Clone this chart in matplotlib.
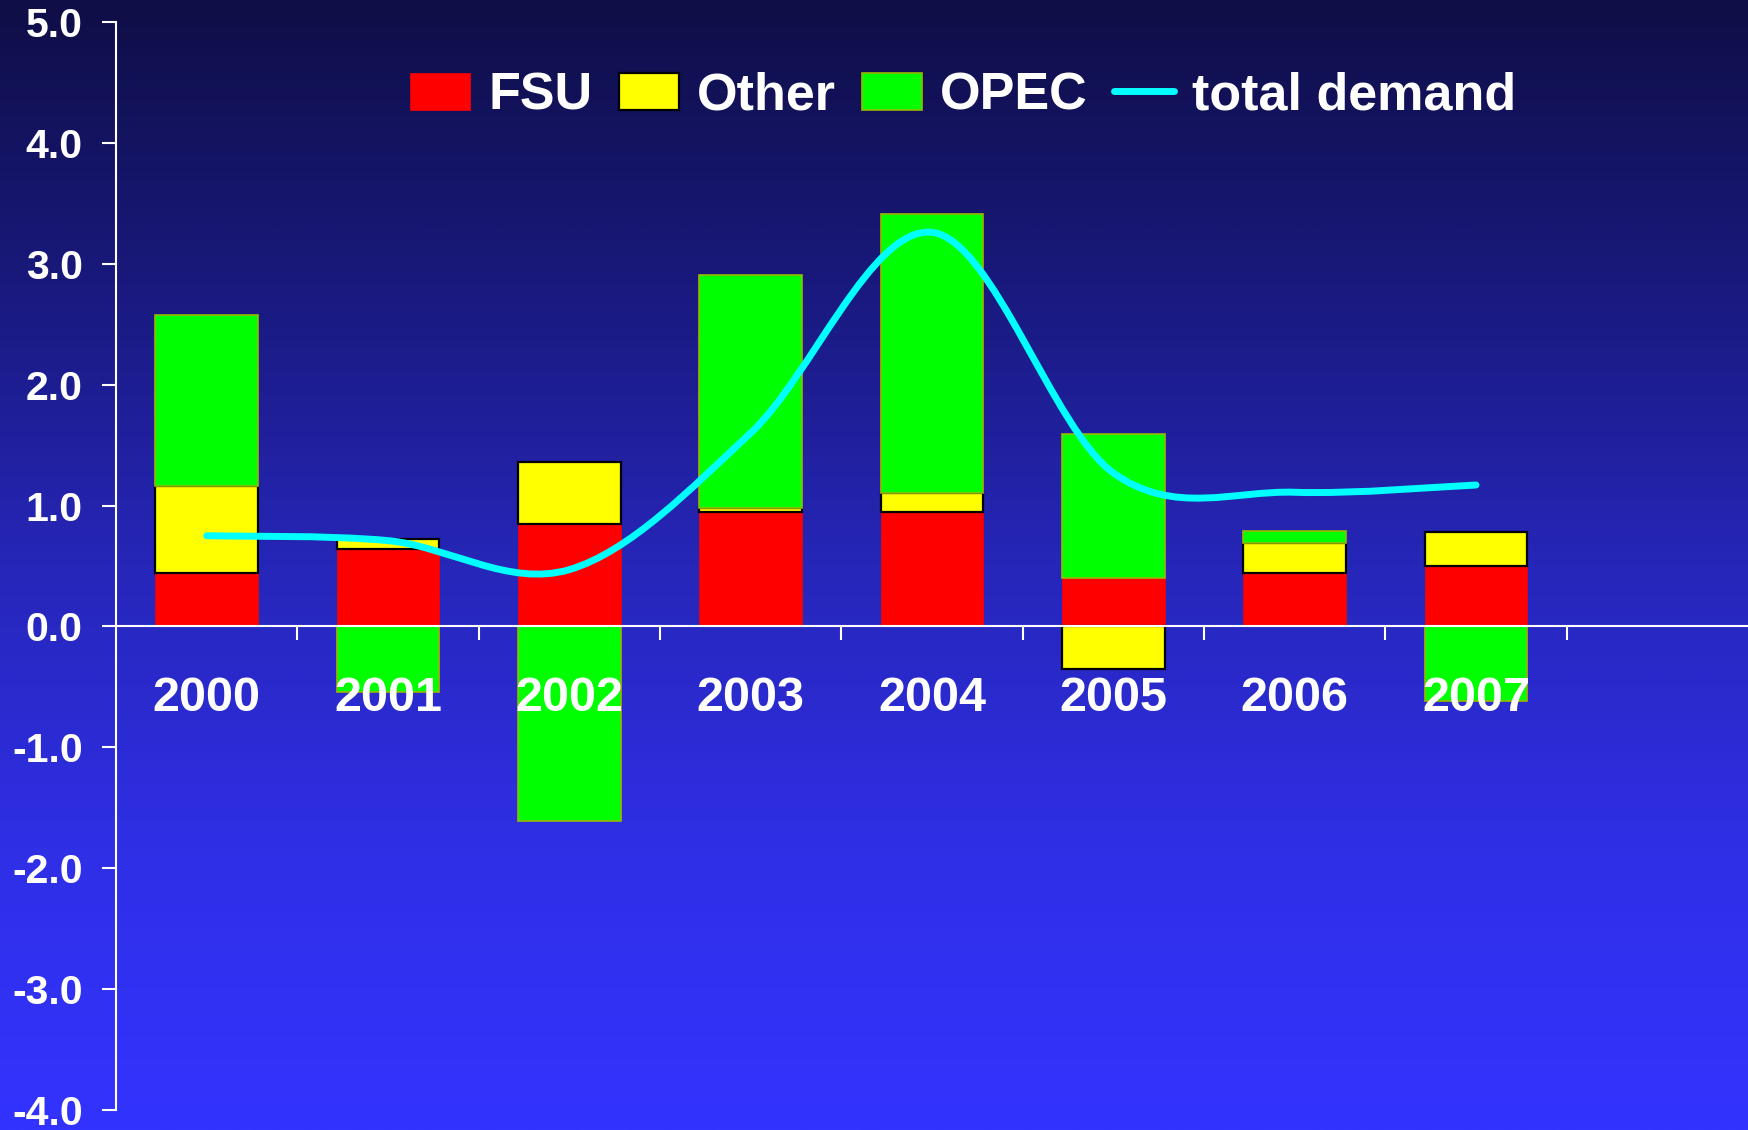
import numpy as np
import matplotlib
matplotlib.use('Agg')
import matplotlib.pyplot as plt
from matplotlib.colors import LinearSegmentedColormap
from matplotlib.path import Path
from matplotlib.patches import PathPatch
from matplotlib.lines import Line2D
from matplotlib.ticker import FormatStrFormatter

# ---- data ----
years = ['2000', '2001', '2002', '2003', '2004', '2005', '2006', '2007']
fsu = [0.44, 0.64, 0.85, 0.95, 0.95, 0.40, 0.44, 0.50]
other = [0.72, 0.08, 0.51, 0.03, 0.15, -0.35, 0.25, 0.28]
opec = [1.42, -0.54, -1.61, 1.93, 2.31, 1.19, 0.10, -0.62]
total_demand = [0.75, 0.71, 0.47, 1.60, 3.26, 1.27, 1.11, 1.17]
yticks = [-4, -3, -2, -1, 0, 1, 2, 3, 4, 5]

plt.rcParams['font.family'] = ['Liberation Sans', 'DejaVu Sans']
plt.rcParams['font.weight'] = 'bold'

W, H = 1748, 1130
fig = plt.figure(figsize=(W / 100, H / 100), dpi=100)

# background gradient
bg = fig.add_axes([0, 0, 1, 1], zorder=-10)
grad = np.linspace(0, 1, 512).reshape(-1, 1)
cmap = LinearSegmentedColormap.from_list(
    'bg', [(0.0, '#0f0e46'), (0.25, '#19197d'), (0.5, '#2626b9'),
           (0.75, '#2f2fe6'), (1.0, '#3333ff')])
bg.imshow(grad, aspect='auto', cmap=cmap, extent=[0, 1, 0, 1], origin='upper')
bg.set_axis_off()

ax = fig.add_axes([116 / W, 20 / H, 1 - 116 / W, 1088 / H])
ax.patch.set_alpha(0)

x = np.arange(len(years))
fsu_a = np.array(fsu)
oth_a = np.array(other)
opc_a = np.array(opec)

bw = 0.565
oth_bottom = np.where(oth_a >= 0, fsu_a, 0.0)
pos_top = fsu_a + np.clip(oth_a, 0, None)
neg_top = np.clip(oth_a, None, 0)
opc_bottom = np.where(opc_a >= 0, pos_top, neg_top)

b_fsu = ax.bar(x, fsu_a, bw, color='#ff0000', edgecolor='#ff0000', linewidth=0.5, zorder=1)
b_oth = ax.bar(x, oth_a, bw, bottom=oth_bottom, color='#ffff00', edgecolor='black',
               linewidth=1.6, zorder=1)
b_opc = ax.bar(x, opc_a, bw, bottom=opc_bottom, color='#00ff00', edgecolor='#99b800',
               linewidth=1.2, zorder=1.1)

# smoothed total demand line (Catmull-Rom style Bezier)
xs = x.astype(float)
ys = np.array(total_demand, dtype=float)
n = len(xs)
verts = [(xs[0], ys[0])]
codes = [Path.MOVETO]
for i in range(n - 1):
    p0 = np.array([xs[max(i - 1, 0)], ys[max(i - 1, 0)]])
    p1 = np.array([xs[i], ys[i]])
    p2 = np.array([xs[i + 1], ys[i + 1]])
    p3 = np.array([xs[min(i + 2, n - 1)], ys[min(i + 2, n - 1)]])
    c1 = p1 + (p2 - p0) / 6.0
    c2 = p2 - (p3 - p1) / 6.0
    verts += [tuple(c1), tuple(c2), tuple(p2)]
    codes += [Path.CURVE4, Path.CURVE4, Path.CURVE4]
line = PathPatch(Path(verts, codes), fill=False, edgecolor='#00ffff', linewidth=5,
                 capstyle='round', joinstyle='round', zorder=3)
ax.add_patch(line)

ax.set_xlim(-0.5, 8.5)
ax.set_ylim(-4, 5)

for s in ['top', 'right']:
    ax.spines[s].set_visible(False)
ax.spines['left'].set_color('white')
ax.spines['left'].set_linewidth(1.5)
ax.spines['bottom'].set_position(('data', 0))
ax.spines['bottom'].set_color('white')
ax.spines['bottom'].set_linewidth(1.5)

ax.set_yticks(yticks)
ax.yaxis.set_major_formatter(FormatStrFormatter('%.1f'))
ax.tick_params(axis='y', direction='out', length=10, width=1.5, color='white',
               labelcolor='white', labelsize=29.5, pad=14)

ax.set_xticks(x)
ax.set_xticklabels(years)
ax.set_xticks(np.arange(0.5, 8, 1.0), minor=True)
ax.tick_params(axis='x', which='major', length=0, labelcolor='white', labelsize=35, pad=36)
ax.tick_params(axis='x', which='minor', direction='out', length=10, width=1.5, color='white')

line_handle = Line2D([0], [0], color='#00ffff', linewidth=5, solid_capstyle='round')
leg = fig.legend([b_fsu, b_oth, b_opc, line_handle], ['FSU', 'Other', 'OPEC', 'total demand'],
                 ncol=4, loc='center', bbox_to_anchor=(0.551, 0.915), frameon=False,
                 fontsize=37.5, handlelength=1.15, handleheight=0.72, handletextpad=0.35,
                 columnspacing=0.5, labelcolor='white')

fig.savefig('out.png', dpi=100)
